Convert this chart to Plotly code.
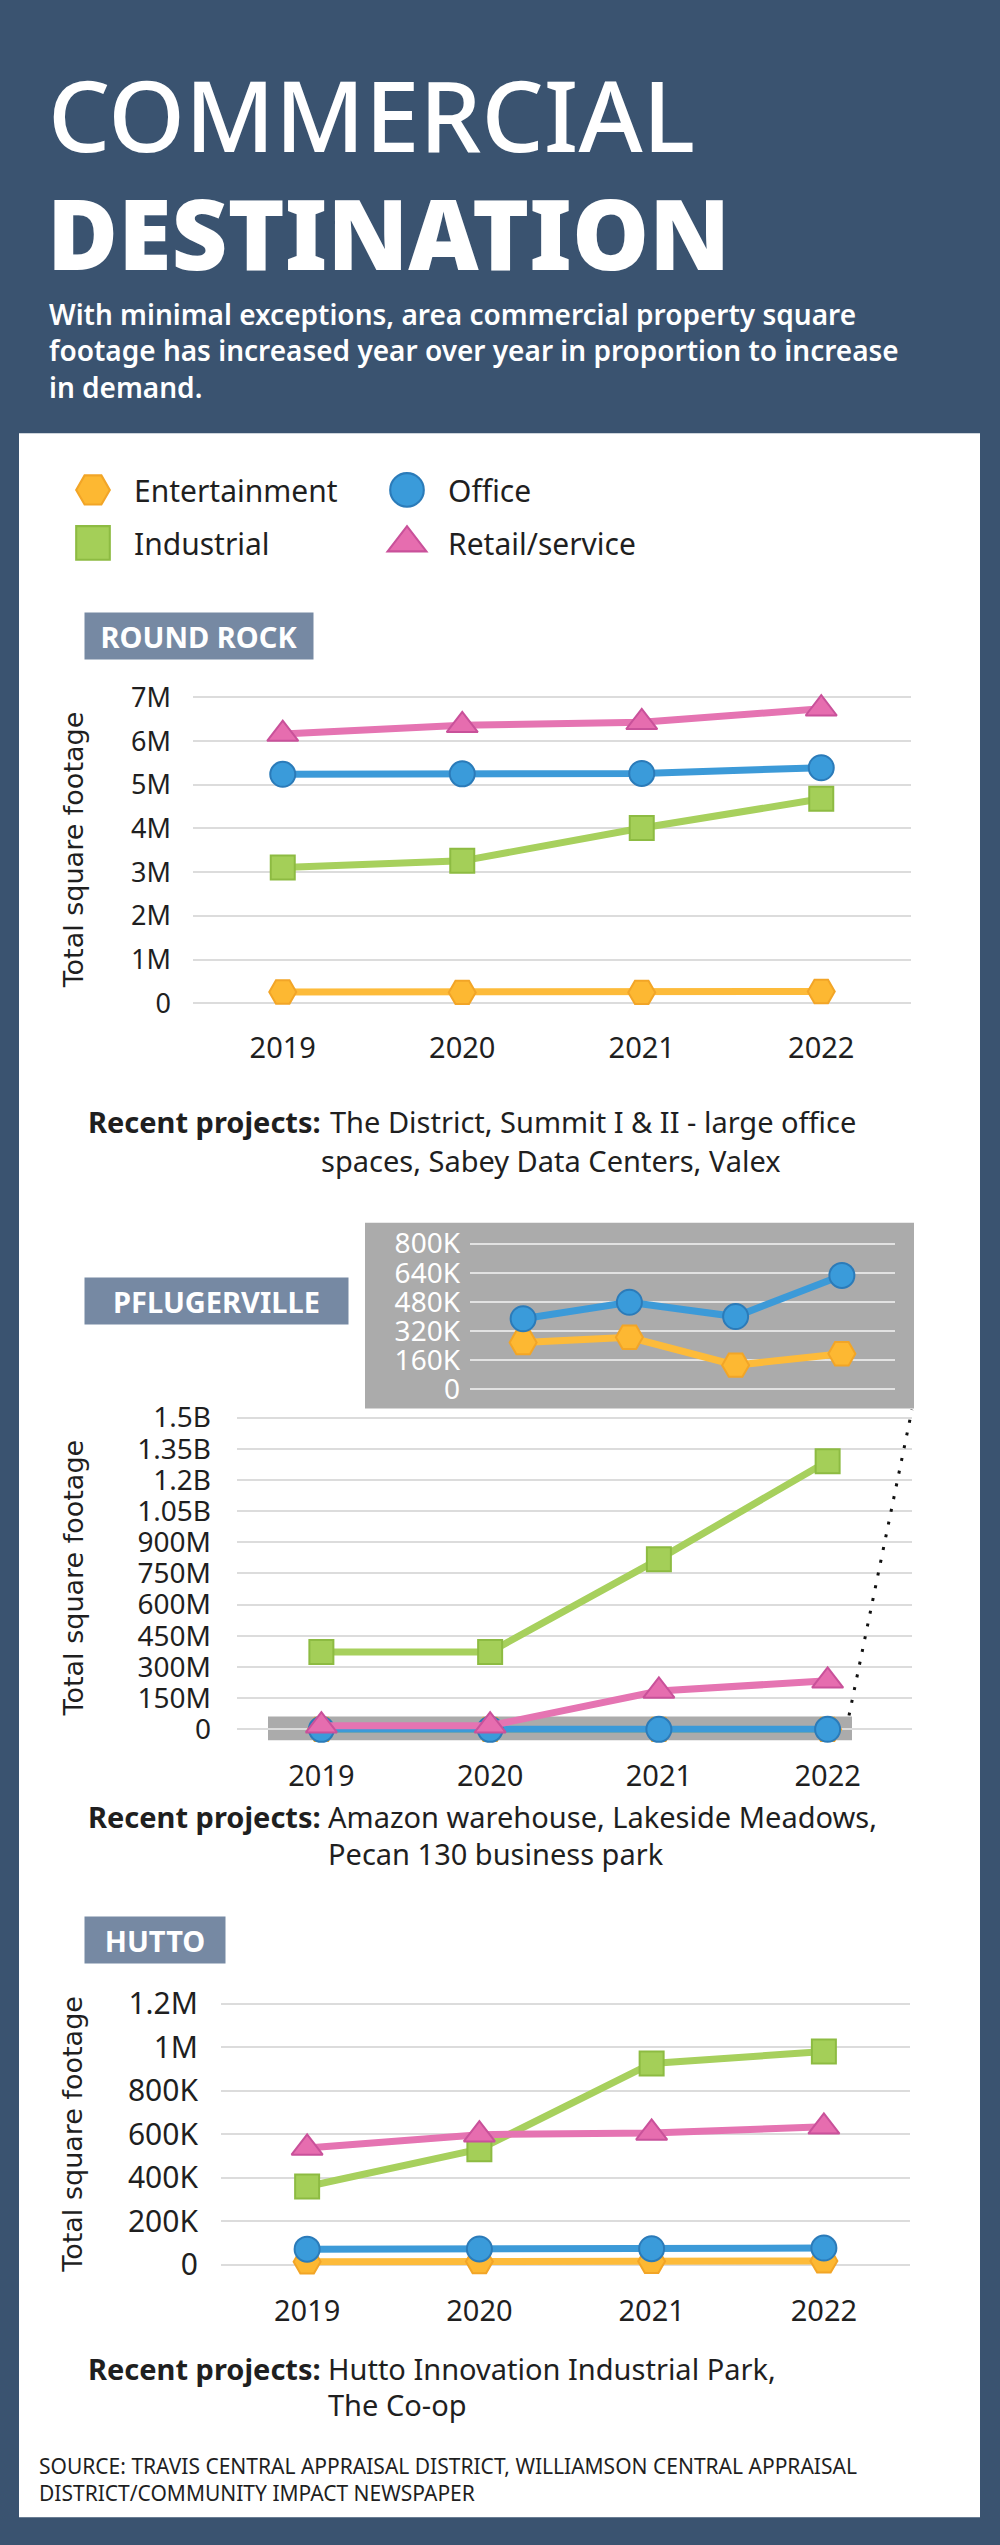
import plotly.graph_objects as go

W, H = 1000, 2545


def fx(px):
    return px / W


def fy(py):
    return 1 - py / H


# ---------------- data ----------------
years = ["2019", "2020", "2021", "2022"]
series_names = ["Entertainment", "Office", "Industrial", "Retail/service"]

# Round Rock (square feet)
rr_entertainment = [0.26e6, 0.25e6, 0.25e6, 0.27e6]
rr_office = [5.24e6, 5.25e6, 5.26e6, 5.39e6]
rr_industrial = [3.11e6, 3.26e6, 4.01e6, 4.68e6]
rr_retail = [6.16e6, 6.36e6, 6.43e6, 6.74e6]
rr_tickvals = [0, 1e6, 2e6, 3e6, 4e6, 5e6, 6e6, 7e6]
rr_ticktext = ["0", "1M", "2M", "3M", "4M", "5M", "6M", "7M"]

# Pflugerville (square feet)
pf_entertainment = [255e3, 284e3, 130e3, 193e3]
pf_office = [386e3, 477e3, 398e3, 625e3]
pf_industrial = [373e6, 373e6, 819e6, 1290e6]
pf_retail = [18e6, 18e6, 185e6, 234e6]
pf_tickvals = [0, 150e6, 300e6, 450e6, 600e6, 750e6, 900e6, 1050e6, 1200e6, 1350e6, 1500e6]
pf_ticktext = ["0", "150M", "300M", "450M", "600M", "750M", "900M", "1.05B", "1.2B", "1.35B", "1.5B"]
pf_inset_tickvals = [0, 160e3, 320e3, 480e3, 640e3, 800e3]
pf_inset_ticktext = ["0", "160K", "320K", "480K", "640K", "800K"]

# Hutto (square feet)
hu_entertainment = [14e3, 15e3, 16e3, 18e3]
hu_office = [72e3, 73e3, 74e3, 77e3]
hu_industrial = [360e3, 531e3, 925e3, 980e3]
hu_retail = [537e3, 598e3, 606e3, 634e3]
hu_tickvals = [0, 200e3, 400e3, 600e3, 800e3, 1000e3, 1200e3]
hu_ticktext = ["0", "200K", "400K", "600K", "800K", "1M", "1.2M"]

# ---------------- styles ----------------
BG = "#3A5370"
TAG = "#7689A3"
TXT = "#1f1f1f"
GRID = "#dcdcdc"
FONT = "Noto Sans"

style = {
    "Entertainment": dict(line="#FDBB3A", fill="#FDB832", edge="#F2A527", symbol="hexagon2", size=27),
    "Office": dict(line="#3C9AD8", fill="#3A9BDA", edge="#2B7BB9", symbol="circle", size=25),
    "Industrial": dict(line="#A7D05D", fill="#A4CF58", edge="#8DBB42", symbol="square", size=24),
    "Retail/service": dict(line="#E574B2", fill="#E66DAF", edge="#C9519A", symbol="triangle-up", size=27),
}

fig = go.Figure()


def add_series(xa, ya, data):
    for name, vals in data:
        s = style[name]
        fig.add_trace(go.Scatter(
            x=years, y=vals, name=name, mode="lines+markers",
            xaxis=xa, yaxis=ya, showlegend=False, cliponaxis=False,
            line=dict(color=s["line"], width=7),
            marker=dict(symbol=s["symbol"], size=s["size"], color=s["fill"],
                        line=dict(color=s["edge"], width=2)),
            hoverinfo="skip",
        ))


# legend-only entries (two columns)
legend_of = {"Entertainment": "legend", "Industrial": "legend",
             "Office": "legend2", "Retail/service": "legend2"}
for name in series_names:
    s = style[name]
    fig.add_trace(go.Scatter(
        x=[None], y=[None], name=name, mode="markers",
        legend=legend_of[name], legendgroup=name,
        marker=dict(symbol=s["symbol"], size=16, color=s["fill"],
                    line=dict(color=s["edge"], width=1)),
    ))

add_series("x", "y", [("Entertainment", rr_entertainment), ("Office", rr_office),
                      ("Industrial", rr_industrial), ("Retail/service", rr_retail)])
add_series("x2", "y2", [("Entertainment", pf_entertainment), ("Office", pf_office),
                        ("Industrial", pf_industrial), ("Retail/service", pf_retail)])
add_series("x3", "y3", [("Entertainment", pf_entertainment), ("Office", pf_office)])
add_series("x4", "y4", [("Entertainment", hu_entertainment), ("Office", hu_office),
                        ("Industrial", hu_industrial), ("Retail/service", hu_retail)])


def xaxis(left, right, anchor, show=True):
    return dict(domain=[fx(left), fx(right)], anchor=anchor, type="category",
                categoryorder="array", categoryarray=years, range=[-0.5, 3.5],
                showgrid=False, zeroline=False, showline=False, ticks="",
                showticklabels=show, ticklabelstandoff=12,
                tickfont=dict(family=FONT, size=29, color=TXT), fixedrange=True)


def yaxis(top, bottom, rng, tv, tt, anchor, size, standoff, color=TXT, grid=GRID):
    return dict(domain=[fy(bottom), fy(top)], anchor=anchor, range=rng,
                tickvals=tv, ticktext=tt, showgrid=True, gridcolor=grid, gridwidth=2,
                zeroline=False, showline=False, ticks="", ticklabelstandoff=standoff,
                tickfont=dict(family=FONT, size=size, color=color), fixedrange=True)


legend_common = dict(xanchor="left", yanchor="top", orientation="v", itemwidth=72,
                     bgcolor="rgba(0,0,0,0)", tracegroupgap=11,
                     font=dict(family=FONT, size=30, color=TXT))

layout = dict(
    width=W, height=H, margin=dict(l=0, r=0, t=0, b=0),
    paper_bgcolor=BG, plot_bgcolor="rgba(0,0,0,0)",
    xaxis=xaxis(193, 911, "y"),
    yaxis=yaxis(680, 1012, [-0.2955e6, 7.25e6], rr_tickvals, rr_ticktext, "x", 27, 21),
    xaxis2=xaxis(237, 912, "y2"),
    yaxis2=yaxis(1405, 1745, [-0.0717e9, 1.5526e9], pf_tickvals, pf_ticktext, "x2", 28, 25),
    xaxis3=xaxis(470, 895, "y3", show=False),
    yaxis3=yaxis(1226, 1400, [-71.2e3, 882e3], pf_inset_tickvals, pf_inset_ticktext, "x3", 28, 9,
                 color="white", grid="#e2e2e2"),
    xaxis4=xaxis(221, 910, "y4"),
    yaxis4=yaxis(1995, 2283, [-0.0639e6, 1.2502e6], hu_tickvals, hu_ticktext, "x4", 30, 22),
    legend=dict(x=fx(52), y=fy(456), **legend_common),
    legend2=dict(x=fx(366), y=fy(456), **legend_common),
    showlegend=True,
)
fig.update_layout(**layout)

# ---------------- decorations ----------------
shapes = [
    dict(type="rect", xref="paper", yref="paper", x0=fx(19), x1=fx(980), y0=fy(2523), y1=fy(425),
         fillcolor="white", line=dict(width=0), layer="below"),
    dict(type="rect", xref="paper", yref="paper", x0=fx(365), x1=fx(914), y0=fy(1407), y1=fy(1220),
         fillcolor="#ABABAB", line=dict(width=0), layer="below"),
    dict(type="rect", xref="paper", yref="paper", x0=fx(268), x1=fx(852), y0=fy(1741), y1=fy(1717),
         fillcolor="#ABABAB", line=dict(width=0), layer="below"),
    dict(type="line", xref="paper", yref="paper", x0=fx(849), y0=fy(1716), x1=fx(912), y1=fy(1408),
         line=dict(color="#111111", width=3, dash="3px,10px"), layer="above"),
]
fig.update_layout(shapes=shapes)

ann = []


def text(px, py, s, size, color=TXT, xanchor="left", family=FONT, weight=None, angle=0, yanchor="middle"):
    f = dict(family=family, size=size, color=color)
    if weight:
        f["weight"] = weight
    ann.append(dict(xref="paper", yref="paper", x=fx(px), y=fy(py), text=s, showarrow=False,
                    xanchor=xanchor, yanchor=yanchor, align="left", font=f, textangle=angle))


# header
text(46, 104, "COMMERCIAL", 98, color="white", weight=500)
text(45, 222, "DESTINATION", 97, color="white", weight=900)
text(47, 342, "With minimal exceptions, area commercial property square<br>"
              "footage has increased year over year in proportion to increase<br>"
              "in demand.", 28, color="white", weight=600)


def tag(cx, cy, w, label):
    ann.append(dict(xref="paper", yref="paper", x=fx(cx), y=fy(cy), text="<b>%s</b>" % label,
                    showarrow=False, xanchor="center", yanchor="middle", width=w, height=46,
                    bgcolor=TAG, borderpad=0,
                    font=dict(family=FONT, size=29, color="white")))


tag(199, 629, 228, "ROUND ROCK")
tag(216, 1299, 263, "PFLUGERVILLE")
tag(155, 1942, 140, "HUTTO")

# axis titles
for cy in (845, 1578, 2138):
    text(73, cy, "Total square footage", 27, family="DejaVu Sans", angle=-90, xanchor="center")

# recent projects
text(86, 1118, "<b>Recent projects:</b>", 29)
text(328, 1118, "The District, Summit I & II - large office", 29)
text(319, 1157, "spaces, Sabey Data Centers, Valex", 29)
text(86, 1818, "<b>Recent projects:</b>", 29)
text(326, 1818, "Amazon warehouse, Lakeside Meadows,", 29)
text(326, 1855, "Pecan 130 business park", 29)
text(86, 2373, "<b>Recent projects:</b>", 29)
text(326, 2373, "Hutto Innovation Industrial Park,", 29)
text(326, 2410, "The Co-op", 29)

# source
text(37, 2485, "SOURCE: TRAVIS CENTRAL APPRAISAL DISTRICT, WILLIAMSON CENTRAL APPRAISAL<br>"
               "DISTRICT/COMMUNITY IMPACT NEWSPAPER", 21)

fig.update_layout(annotations=ann)

post = """
document.body.style.margin = '0';
var gd = document.getElementById('{plot_id}');
gd.querySelectorAll('.legendpoints path').forEach(function(p){
  var t = p.getAttribute('transform') || '';
  p.setAttribute('transform', t + ' scale(2.1)');
});
"""

fig.write_html("out.html", post_script=post, config={"displayModeBar": False})
